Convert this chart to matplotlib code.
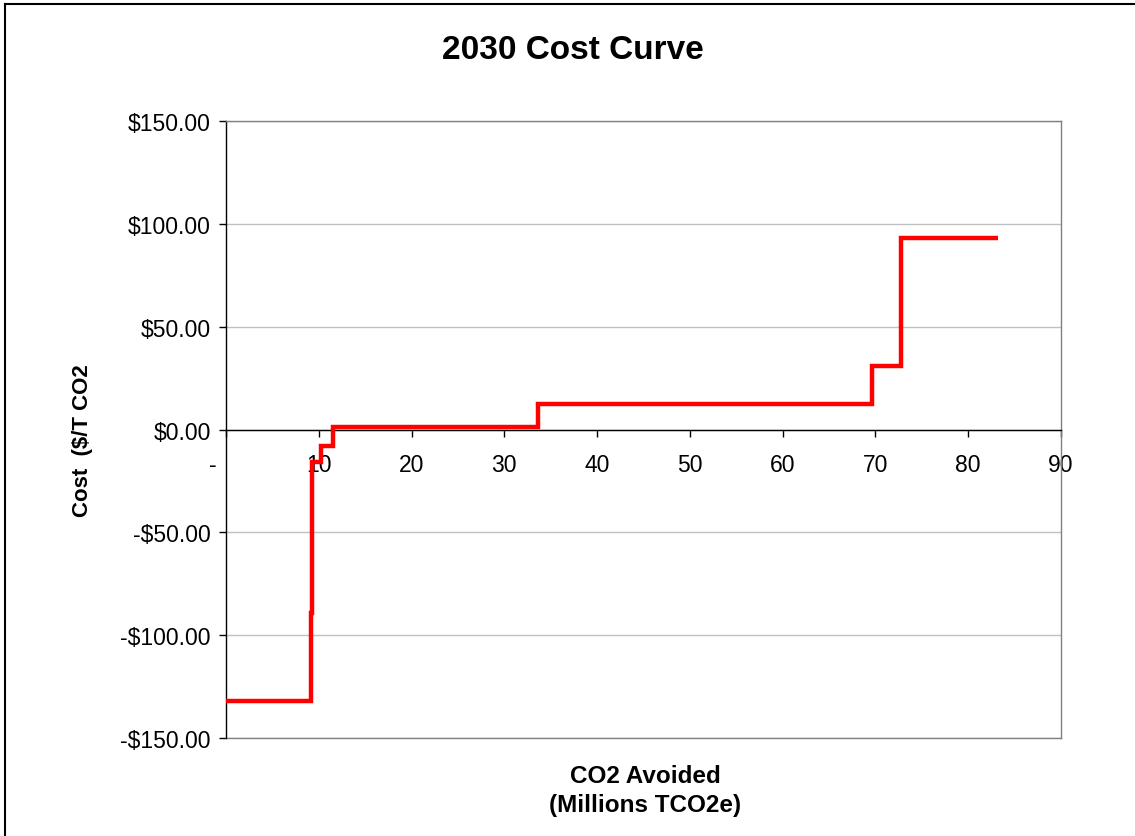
import matplotlib
matplotlib.use("Agg")
import matplotlib.pyplot as plt
from matplotlib.lines import Line2D

# cumulative abatement (Mt CO2e) at each step edge, and cost of each step ($/t)
x_edges = [0, 9.13, 9.3, 10.2, 11.5, 33.65, 69.6, 72.75, 83.2]
step_costs = [-132, -89, -16, -8, 1.3, 12.2, 30.8, 92.9]

x_ticks = [0, 10, 20, 30, 40, 50, 60, 70, 80, 90]
x_tick_labels = ["-    ", "10", "20", "30", "40", "50", "60", "70", "80", "90"]
y_ticks = [-150, -100, -50, 0, 50, 100, 150]

plt.rcParams["font.family"] = ["Liberation Sans", "DejaVu Sans"]

fig = plt.figure(figsize=(11.35, 8.37), dpi=100)
ax = fig.add_axes([0.1991, 0.1171, 0.7357, 0.7371])

ax.stairs(step_costs, x_edges, baseline=None, color="#ff0000", lw=3.2, zorder=3)

ax.set_xlim(0, 90)
ax.set_ylim(-150, 150)

# x axis crosses at zero cost
ax.spines["bottom"].set_position(("data", 0))
ax.spines["bottom"].set_color("black")
ax.spines["left"].set_color("black")
for side in ("top", "right"):
    ax.spines[side].set_color("#808080")
for s in ax.spines.values():
    s.set_linewidth(1)
# gray border along the bottom of the plot area
ax.add_line(Line2D([0, 1], [0, 0], transform=ax.transAxes, color="#808080", lw=1, clip_on=False))

ax.set_xticks(x_ticks)
ax.set_xticklabels(x_tick_labels)
ax.set_yticks(y_ticks)
ax.set_yticklabels([f"-${abs(v):.2f}" if v < 0 else f"${v:.2f}" for v in y_ticks])
ax.tick_params(axis="both", direction="out", length=5, width=1, labelsize=16.5, colors="black")
ax.tick_params(axis="x", pad=12)
ax.tick_params(axis="y", pad=6)

ax.yaxis.grid(True, color="#c0c0c0", lw=1)
ax.set_axisbelow(True)

fig.text(0.5048, 0.940, "2030 Cost Curve", ha="center", va="center", fontsize=24, fontweight="bold")
fig.text(0.5683, 0.055, "CO2 Avoided\n(Millions TCO2e)", ha="center", va="center",
         fontsize=17.5, fontweight="bold", linespacing=1.3)
fig.text(0.0731, 0.474, "Cost  ($/T CO2", ha="center", va="center", rotation=90,
         fontsize=16, fontweight="bold")

# outer frame
fig.add_artist(Line2D([5 / 1135, 1], [1 - 5 / 837] * 2, transform=fig.transFigure, color="black", lw=1.5))
fig.add_artist(Line2D([5 / 1135] * 2, [0, 1 - 5 / 837], transform=fig.transFigure, color="black", lw=1.5))

fig.savefig("out.png", dpi=100)
